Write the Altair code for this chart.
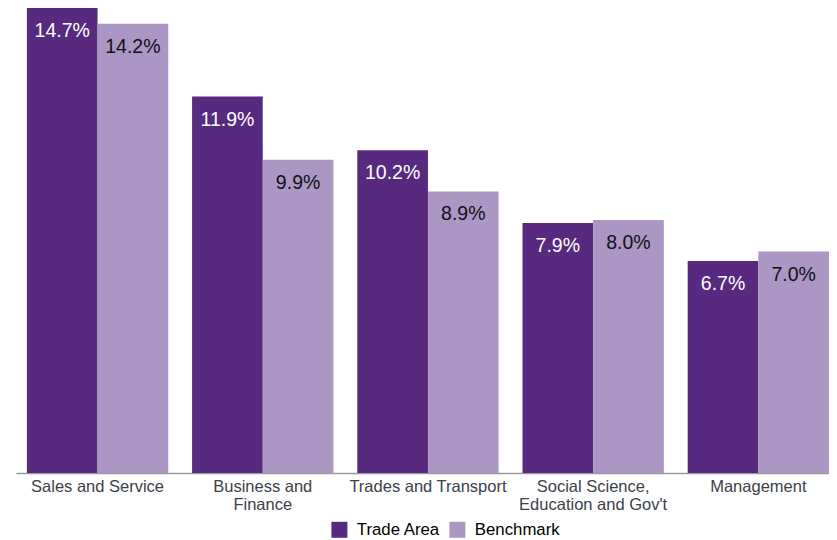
import altair as alt
import pandas as pd

categories = ["Sales and Service", "Business and|Finance", "Trades and Transport",
              "Social Science,|Education and Gov't", "Management"]
series = ["Trade Area", "Benchmark"]
trade_area = [14.7, 11.9, 10.2, 7.9, 6.7]
benchmark = [14.2, 9.9, 8.9, 8.0, 7.0]
colors = ["#572a80", "#ab96c4"]

rows = []
for i, c in enumerate(categories):
    rows.append({"category": c, "series": series[0], "value": trade_area[i],
                 "label": f"{trade_area[i]:.1f}%"})
    rows.append({"category": c, "series": series[1], "value": benchmark[i],
                 "label": f"{benchmark[i]:.1f}%"})
df = pd.DataFrame(rows)

FONT = "Liberation Sans"

x = alt.X("category:N", sort=categories, title=None,
          scale=alt.Scale(paddingInner=0.1446, paddingOuter=0.033, align=1),
          axis=alt.Axis(labelExpr="split(datum.label, '|')", labelAngle=0,
                        ticks=False, domainColor="#9a9a9a", domainWidth=1.5,
                        labelFont=FONT, labelFontSize=16.5, labelColor="#3c4048",
                        labelPadding=5, labelLineHeight=18, labelBaseline="top"))
xo = alt.XOffset("series:N", sort=series, scale=alt.Scale(paddingInner=0, paddingOuter=0))
y = alt.Y("value:Q", title=None, scale=alt.Scale(domain=[0, 14.7], nice=False, zero=True),
          axis=None)

bars = alt.Chart(df).mark_bar().encode(
    x=x, xOffset=xo, y=y,
    color=alt.Color("series:N", sort=series, title=None,
                    scale=alt.Scale(domain=series, range=colors),
                    legend=alt.Legend(orient="none", legendX=315, legendY=513,
                                      direction="horizontal", symbolType="square",
                                      symbolSize=256, symbolStrokeWidth=0,
                                      labelFont=FONT, labelFontSize=16.8,
                                      labelColor="#000000", labelOffset=9,
                                      columnPadding=8, symbolOpacity=1)),
)

texts = alt.Chart(df).mark_text(baseline="middle", dy=23, font=FONT, fontSize=19.5).encode(
    x=x, xOffset=xo, y=y, text="label:N",
    color=alt.condition("datum.series === 'Trade Area'", alt.value("#ffffff"), alt.value("#111111")),
)

chart = alt.layer(bars, texts).properties(
    width=813, height=465,
    autosize=alt.AutoSizeParams(type="none"),
    padding={"left": 8, "top": 0, "right": 0, "bottom": 67},
).configure_view(stroke=None)

chart.save("out.html", embed_options={"renderer": "svg", "actions": False})
